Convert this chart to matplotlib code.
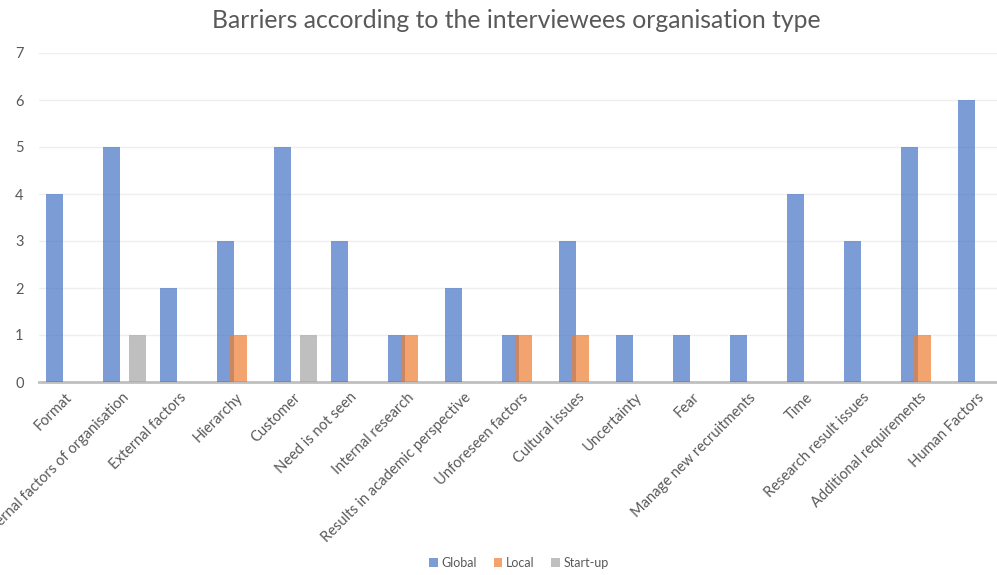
import matplotlib.pyplot as plt
import matplotlib.transforms as mtransforms
import numpy as np

plt.rcParams['font.family'] = ['Lato', 'DejaVu Sans']

categories = ['Format', 'Internal factors of organisation', 'External factors', 'Hierarchy',
              'Customer', 'Need is not seen', 'Internal research',
              'Results in academic perspective', 'Unforeseen factors', 'Cultural issues',
              'Uncertainty', 'Fear', 'Manage new recruitments', 'Time',
              'Research result issues', 'Additional requirements', 'Human Factors']
global_vals = [4, 5, 2, 3, 5, 3, 1, 2, 1, 3, 1, 1, 1, 4, 3, 5, 6]
local_vals = [0, 0, 0, 1, 0, 0, 1, 0, 1, 1, 0, 0, 0, 0, 0, 1, 0]
startup_vals = [0, 1, 0, 0, 1, 0, 0, 0, 0, 0, 0, 0, 0, 0, 0, 0, 0]

series = [('Global', global_vals, '#4472C4'),
          ('Local', local_vals, '#ED7D31'),
          ('Start-up', startup_vals, '#A5A5A5')]

W, H = 997, 575
fig = plt.figure(figsize=(W / 100, H / 100), dpi=100)
# plot area runs a little past the right edge of the figure
ax = fig.add_axes([39 / W, 193 / H, 969 / W, 329 / H])

x = np.arange(len(categories))
width = 0.30
step = 0.228
for i, (name, vals, color) in enumerate(series):
    ax.bar(x + (i - 1) * step, vals, width, color=color, alpha=0.7,
           label=name, zorder=3)

ax.set_xlim(-0.5, len(categories) - 0.5)
ax.set_ylim(0, 7)
ax.set_yticks(range(0, 8))
ax.grid(axis='y', color='#EFEFEF', linewidth=1, zorder=0)
for s in ['top', 'right', 'left']:
    ax.spines[s].set_visible(False)
ax.spines['bottom'].set_color('#BFBFBF')
ax.spines['bottom'].set_linewidth(2)
ax.tick_params(axis='both', length=0, colors='#595959', labelsize=10.5)
ax.tick_params(axis='y', pad=11)
ax.tick_params(axis='x', pad=6)
ax.set_xticks(x)
ax.set_xticklabels(categories, rotation=45, ha='right', va='top', rotation_mode='anchor')
shift = mtransforms.ScaledTranslation(-2 / 72, 0, fig.dpi_scale_trans)
for lbl in ax.get_xticklabels():
    lbl.set_transform(lbl.get_transform() + shift)

fig.text(516.5 / W, 1 - 20 / H, 'Barriers according to the interviewees organisation type',
         ha='center', va='center', fontsize=17.8, color='#595959')

fig.legend(loc='center', bbox_to_anchor=(519 / W, 1 - 563 / H),
           ncol=3, frameon=False, fontsize=9, handlelength=0.7, handleheight=0.7,
           handletextpad=0.3, columnspacing=1.3, labelcolor='#595959')

fig.savefig('out.png', dpi=100)
